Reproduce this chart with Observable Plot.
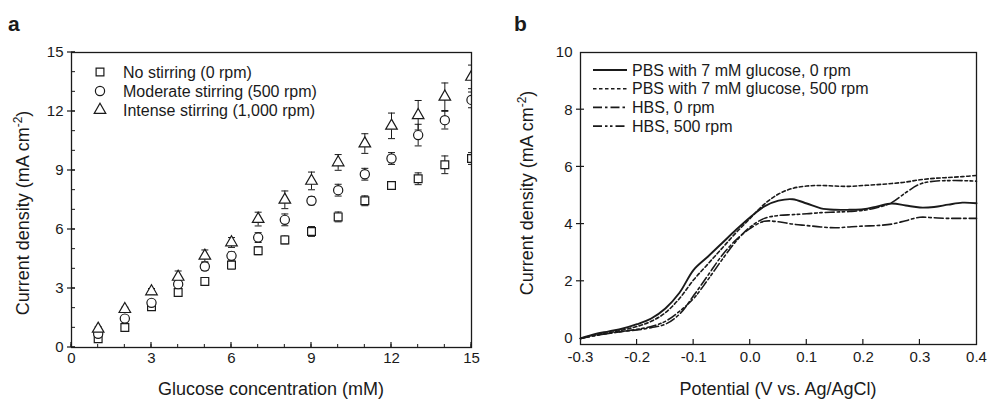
<!DOCTYPE html>
<html><head><meta charset="utf-8">
<script src="https://cdn.jsdelivr.net/npm/d3@7"></script>
<script src="https://cdn.jsdelivr.net/npm/@observablehq/plot@0.6"></script>
<style>
body{margin:0;background:#fff;}
#wrap{position:relative;width:987px;height:403px;overflow:hidden;font-family:"Liberation Sans",Arial,sans-serif;color:#1a1a1a;}
#wrap svg{position:absolute;top:0;}
.plab{position:absolute;font-weight:bold;font-size:21px;line-height:1;}
</style></head><body><div id="wrap"></div>
<script>
// ---------- Panel a data ----------
const glucose = [1,2,3,4,5,6,7,8,9,10,11,12,13,14,15];
const noStir      = [0.45,1.02,2.07,2.8,3.36,4.19,4.92,5.47,5.9,6.64,7.46,8.24,8.58,9.29,9.61];
const noStirErr   = [0.15,0.15,0.15,0.2,0.15,0.2,0.2,0.2,0.25,0.25,0.25,0.2,0.3,0.45,0.3];
const moderate    = [0.7,1.47,2.27,3.22,4.12,4.66,5.59,6.49,7.46,8.0,8.81,9.61,10.8,11.56,12.59];
const moderateErr = [0.1,0.1,0.15,0.2,0.2,0.2,0.25,0.3,0.2,0.3,0.3,0.3,0.55,0.45,0.4];
const intense     = [0.95,1.95,2.85,3.59,4.66,5.34,6.53,7.51,8.47,9.41,10.37,11.27,11.81,12.75,13.76];
const intenseErr  = [0.1,0.1,0.15,0.3,0.3,0.25,0.35,0.45,0.45,0.4,0.5,0.65,0.75,0.7,0.6];
const legendA = ["No stirring (0 rpm)","Moderate stirring (500 rpm)","Intense stirring (1,000 rpm)"];
const symbolsA = ["square","circle","triangle"];
const yTicksA = [0,3,6,9,12,15];
const xTicksA = [0,3,6,9,12,15];
const minorA = [0,1,2,3,4,5,6,7,8,9,10,11,12,13,14,15];

// ---------- Panel b data ----------
const potential = [-0.3,-0.275,-0.25,-0.225,-0.2,-0.175,-0.15,-0.125,-0.1,-0.075,-0.05,-0.025,0,0.025,0.05,0.075,0.1,0.125,0.15,0.175,0.2,0.225,0.25,0.275,0.3,0.325,0.35,0.375,0.4];
const pbs0   = [0.0,0.15,0.25,0.35,0.5,0.7,1.05,1.6,2.4,2.86,3.33,3.8,4.24,4.62,4.82,4.87,4.72,4.55,4.5,4.5,4.52,4.62,4.72,4.65,4.58,4.6,4.68,4.75,4.73];
const pbs500 = [0.0,0.12,0.2,0.3,0.42,0.6,0.9,1.4,2.05,2.6,3.15,3.7,4.2,4.7,5.05,5.25,5.33,5.35,5.33,5.32,5.35,5.38,5.42,5.47,5.55,5.6,5.63,5.66,5.7];
const hbs0   = [0.0,0.1,0.18,0.25,0.3,0.38,0.5,0.85,1.5,2.2,2.9,3.45,3.85,4.1,4.08,4.0,3.95,3.9,3.87,3.9,3.93,3.95,4.0,4.12,4.24,4.22,4.2,4.2,4.2];
const hbs500 = [0.0,0.1,0.18,0.25,0.32,0.42,0.6,0.95,1.4,2.05,2.75,3.4,3.9,4.2,4.3,4.33,4.36,4.4,4.42,4.44,4.48,4.58,4.75,5.1,5.4,5.5,5.52,5.52,5.5];
const legendB = ["PBS with 7 mM glucose, 0 rpm","PBS with 7 mM glucose, 500 rpm","HBS, 0 rpm","HBS, 500 rpm"];
const dashesB = [null,"3.5,2.5","9,3,2.5,3","9,3,2.5,2.5,2.5,3"];
const widthsB = [1.9,1.6,1.6,1.6];
const yTicksB = [0,2,4,6,8,10];
const xTicksB = [-0.3,-0.2,-0.1,0,0.1,0.2,0.3,0.4];

const INK = "#1a1a1a";
const FONT = '"Liberation Sans", Arial, sans-serif';
const wrap = document.getElementById("wrap");
const capSym = {draw(c){c.moveTo(-3.5,0);c.lineTo(3.5,0);}};

// draws tick marks with the plot's own scales
function addTicks(svgEl, spec) {
  const sx = svgEl.scale("x"), sy = svgEl.scale("y");
  const svg = d3.select(svgEl);
  const g = svg.append("g").attr("stroke", INK);
  const xl = sx.range[0], yb = sy.range[0];
  (spec.yCross || []).forEach(v => { const y = sy.apply(v);
    g.append("line").attr("x1", xl-4).attr("x2", xl+4).attr("y1", y).attr("y2", y).attr("stroke-width", 1.2); });
  (spec.yIn || []).forEach(v => { const y = sy.apply(v);
    g.append("line").attr("x1", xl).attr("x2", xl+4).attr("y1", y).attr("y2", y).attr("stroke-width", 1); });
  (spec.xIn || []).forEach(v => { const x = sx.apply(v);
    g.append("line").attr("x1", x).attr("x2", x).attr("y1", yb).attr("y2", yb-5).attr("stroke-width", 1.2); });
  (spec.xInMinor || []).forEach(v => { const x = sx.apply(v);
    g.append("line").attr("x1", x).attr("x2", x).attr("y1", yb).attr("y2", yb-3).attr("stroke-width", 1); });
}

// ---------- Panel a ----------
const seriesA = [noStir, moderate, intense].map((vals, k) => ({
  name: legendA[k], symbol: symbolsA[k],
  rows: glucose.map((g, i) => ({x: g, y: vals[i], e: [noStirErr, moderateErr, intenseErr][k][i]}))
}));
const sizes = {square:4.4, circle:4.6, triangle:4.3};

const marksA = [
  Plot.axisY({ticks:yTicksA, tickSize:0, tickPadding:8, fontSize:15, label:null}),
  Plot.axisX({ticks:xTicksA, tickSize:0, tickPadding:5, fontSize:15, label:null})
];
seriesA.forEach(s => {
  marksA.push(Plot.ruleX(s.rows, {x:"x", y1:d=>d.y-d.e, y2:d=>d.y+d.e, stroke:INK, strokeWidth:1, clip:true}));
  marksA.push(Plot.dot(s.rows, {x:"x", y:d=>d.y+d.e, symbol:capSym, stroke:INK, strokeWidth:1, clip:true}));
  marksA.push(Plot.dot(s.rows, {x:"x", y:d=>d.y-d.e, symbol:capSym, stroke:INK, strokeWidth:1, clip:true}));
});
seriesA.forEach(s => {
  marksA.push(Plot.dot(s.rows, {x:"x", y:"y", symbol:s.symbol, r:sizes[s.symbol], fill:"white", stroke:INK, strokeWidth:1.2, clip:true}));
});
marksA.push(Plot.frame({stroke:INK, strokeWidth:1.3}));

const plotA = Plot.plot({
  width:500, height:403, marginLeft:71, marginRight:29, marginTop:52, marginBottom:56,
  style:{fontFamily:FONT, fontSize:"15px", color:INK, background:"transparent", overflow:"visible"},
  x:{domain:[0,15]}, y:{domain:[0,15]},
  marks: marksA
});
plotA.style.left = "0px";
wrap.appendChild(plotA);
addTicks(plotA, {yCross:yTicksA, yIn:minorA, xIn:xTicksA, xInMinor:minorA});

{
  const svg = d3.select(plotA);
  const g = svg.append("g").attr("text-anchor","start");
  legendA.forEach((name, k) => {
    const y = 72 + k*19;
    const sym = {square:d3.symbolSquare, circle:d3.symbolCircle, triangle:d3.symbolTriangle}[symbolsA[k]];
    const r = sizes[symbolsA[k]];
    g.append("path").attr("d", d3.symbol(sym, r*r*Math.PI)()).attr("transform", `translate(100,${y})`)
      .attr("fill","white").attr("stroke",INK).attr("stroke-width",1.2);
    g.append("text").attr("x",123).attr("y",y+5.5).attr("font-size",16).attr("fill",INK).text(name);
  });
  svg.append("text").attr("x",271).attr("y",395).attr("text-anchor","middle").attr("font-size",18).attr("fill",INK)
    .text("Glucose concentration (mM)");
  const t = svg.append("text").attr("transform","translate(29,213) rotate(-90)").attr("text-anchor","middle")
    .attr("font-size",18).attr("fill",INK);
  t.append("tspan").text("Current density (mA cm");
  t.append("tspan").attr("font-size",12).attr("dy",-7).text("-2");
  t.append("tspan").attr("dy",7).text(")");
}

// ---------- Panel b ----------
const seriesB = [pbs0, pbs500, hbs0, hbs500].map((vals, k) => ({
  name: legendB[k], rows: potential.map((p, i) => ({x:p, y:vals[i]}))
}));
const marksB = [
  Plot.axisY({ticks:yTicksB, tickSize:0, tickPadding:8, fontSize:15, label:null}),
  Plot.axisX({ticks:xTicksB, tickSize:0, tickPadding:7, fontSize:15, label:null, tickFormat:d=>d.toFixed(1)})
];
seriesB.forEach((s, k) => {
  marksB.push(Plot.line(s.rows, {x:"x", y:"y", stroke:INK, strokeWidth:widthsB[k], strokeDasharray:dashesB[k], curve:"catmull-rom"}));
});
marksB.push(Plot.frame({stroke:INK, strokeWidth:1.3}));
const plotB = Plot.plot({
  width:487, height:403, marginLeft:80, marginRight:11, marginTop:52, marginBottom:59,
  style:{fontFamily:FONT, fontSize:"15px", color:INK, background:"transparent", overflow:"visible"},
  x:{domain:[-0.3,0.4]}, y:{domain:[-0.21,10]},
  marks: marksB
});
plotB.style.left = "500px";
wrap.appendChild(plotB);
addTicks(plotB, {yCross:yTicksB.slice(1,-1), xIn:xTicksB.slice(1,-1)});

{
  const svg = d3.select(plotB);
  const g = svg.append("g").attr("text-anchor","start");
  legendB.forEach((name, k) => {
    const y = 70 + k*18.7;
    g.append("line").attr("x1",93).attr("x2",127).attr("y1",y).attr("y2",y)
      .attr("stroke",INK).attr("stroke-width",widthsB[k]).attr("stroke-dasharray",dashesB[k]);
    g.append("text").attr("x",132).attr("y",y+5.5).attr("font-size",16).attr("fill",INK).text(name);
  });
  svg.append("text").attr("x",278).attr("y",395).attr("text-anchor","middle").attr("font-size",18).attr("fill",INK)
    .text("Potential (V vs. Ag/AgCl)");
  const t = svg.append("text").attr("transform","translate(33,193) rotate(-90)").attr("text-anchor","middle")
    .attr("font-size",18).attr("fill",INK);
  t.append("tspan").text("Current density (mA cm");
  t.append("tspan").attr("font-size",12).attr("dy",-7).text("-2");
  t.append("tspan").attr("dy",7).text(")");
}

["a","b"].forEach((lab, k) => {
  const d = document.createElement("div");
  d.className = "plab"; d.textContent = lab;
  d.style.left = (k ? 514 : 8) + "px"; d.style.top = "13px";
  wrap.appendChild(d);
});
</script></body></html>
